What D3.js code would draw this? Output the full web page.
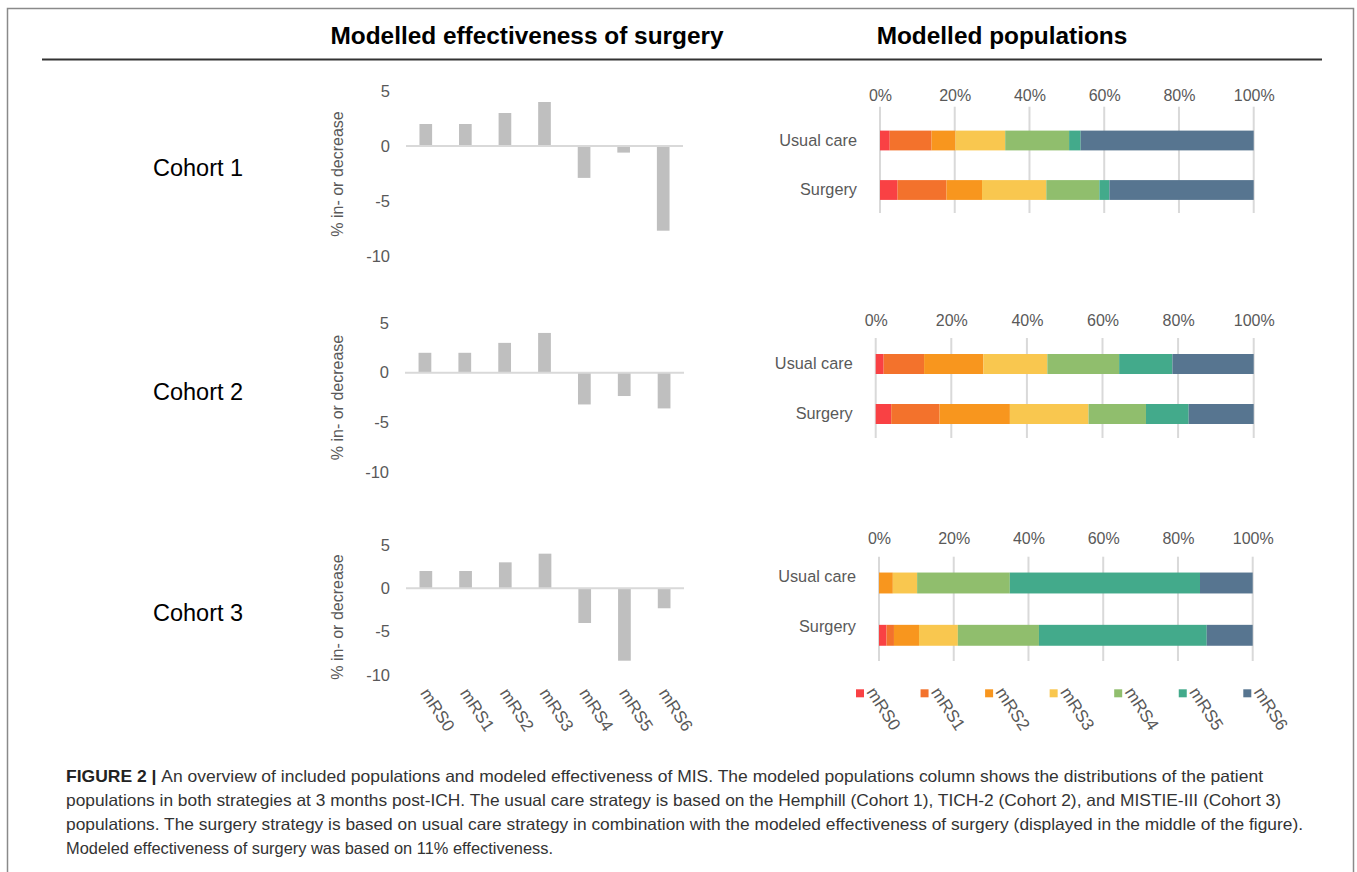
<!DOCTYPE html>
<html>
<head>
<meta charset="utf-8">
<script src="https://cdn.jsdelivr.net/npm/d3@7"></script>
<style>
  html, body { margin: 0; padding: 0; background: #fff; }
  svg { display: block; font-family: "Liberation Sans", Arial, sans-serif; }
</style>
</head>
<body>
<svg id="chart" width="1357" height="872"></svg>
<script>
// ---------------- DATA ----------------
const categories = ["mRS0", "mRS1", "mRS2", "mRS3", "mRS4", "mRS5", "mRS6"];
const cohortNames = ["Cohort 1", "Cohort 2", "Cohort 3"];
const effectCohort1 = [2, 2, 3, 4, -2.9, -0.6, -7.7];
const effectCohort2 = [2, 2, 3, 4, -3.2, -2.35, -3.6];
const effectCohort3 = [2, 2, 3, 4, -4.0, -8.35, -2.3];
const effectTicks = [5, 0, -5, -10];
const strategies = ["Usual care", "Surgery"];
const popCohort1UsualCare = [2.6, 11.2, 6.4, 13.3, 17.1, 3.1, 46.3];
const popCohort1Surgery   = [4.7, 13.1, 9.5, 17.2, 14.2, 2.7, 38.6];
const popCohort2UsualCare = [2.1, 10.7, 15.7, 16.9, 19.0, 14.1, 21.5];
const popCohort2Surgery   = [4.1, 12.8, 18.6, 20.8, 15.2, 11.3, 17.2];
const popCohort3UsualCare = [0, 0, 3.7, 6.5, 24.8, 50.9, 14.1];
const popCohort3Surgery   = [2.0, 2.0, 6.7, 10.4, 21.7, 44.9, 12.3];
const pctTicks = [0, 20, 40, 60, 80, 100];
const pctTickLabels = ["0%", "20%", "40%", "60%", "80%", "100%"];
const titleLeft = "Modelled effectiveness of surgery";
const titleRight = "Modelled populations";
const yAxisTitle = "% in- or decrease";
const captionLines = [
  ["FIGURE 2 | ", "An overview of included populations and modeled effectiveness of MIS. The modeled populations column shows the distributions of the patient"],
  ["", "populations in both strategies at 3 months post-ICH. The usual care strategy is based on the Hemphill (Cohort 1), TICH-2 (Cohort 2), and MISTIE-III (Cohort 3)"],
  ["", "populations. The surgery strategy is based on usual care strategy in combination with the modeled effectiveness of surgery (displayed in the middle of the figure)."],
  ["", "Modeled effectiveness of surgery was based on 11% effectiveness."]
];

// ---------------- STYLE ----------------
const palette = ["#F94144", "#F3722C", "#F8961E", "#F9C74F", "#90BE6D", "#43AA8B", "#577590"];
const axisTextColor = "#595959";
const gridColor = "#d9d9d9";
const barGrey = "#bfbfbf";

const svg = d3.select("#chart");

// frame
svg.append("rect").attr("x", 7.5).attr("y", 8.5).attr("width", 1346).attr("height", 900)
  .attr("fill", "none").attr("stroke", "#8a8a8a").attr("stroke-width", 1.5);

// header
svg.append("text").attr("x", 527).attr("y", 44).attr("text-anchor", "middle")
  .attr("font-size", 24.4).attr("font-weight", "bold").attr("fill", "#000").text(titleLeft);
svg.append("text").attr("x", 1002).attr("y", 44).attr("text-anchor", "middle")
  .attr("font-size", 24.4).attr("font-weight", "bold").attr("fill", "#000").text(titleRight);
svg.append("line").attr("x1", 42).attr("x2", 1322).attr("y1", 59.5).attr("y2", 59.5)
  .attr("stroke", "#333").attr("stroke-width", 2);

// ---------------- LAYOUTS ----------------
const effects = [effectCohort1, effectCohort2, effectCohort3];
const pops = [
  [popCohort1UsualCare, popCohort1Surgery],
  [popCohort2UsualCare, popCohort2Surgery],
  [popCohort3UsualCare, popCohort3Surgery]
];
const leftLayout = [
  { yTop: 91, yBot: 256, x0: 406, x1: 683, labelY: 174, cohortY: 176 },
  { yTop: 323, yBot: 472, x0: 405, x1: 684, labelY: 397.5, cohortY: 400 },
  { yTop: 545, yBot: 675, x0: 406, x1: 684, labelY: 617, cohortY: 621 }
];
const rightLayout = [
  { x0: 880, x1: 1253.7, tickY: 95, gTop: 106.7, gBot: 213, b0: 115.75, b1: 214.75, labShift: [0, 0] },
  { x0: 875.7, x1: 1253.7, tickY: 320, gTop: 338, gBot: 438, b0: 339, b1: 439, labShift: [0, 0] },
  { x0: 879, x1: 1252.7, tickY: 538.3, gTop: 556.7, gBot: 661, b0: 556.85, b1: 661.45, labShift: [-6, -9] }
];

cohortNames.forEach((name, ci) => {
  // cohort label
  svg.append("text").attr("x", 153).attr("y", leftLayout[ci].cohortY)
    .attr("font-size", 23.5).attr("fill", "#000").text(name);

  // ---- left: effectiveness bar chart ----
  const L = leftLayout[ci];
  const y = d3.scaleLinear().domain([-10, 5]).range([L.yBot, L.yTop]);
  const x = d3.scaleBand().domain(categories).range([L.x0, L.x1])
    .paddingInner(0.68).paddingOuter(0.34);
  const g = svg.append("g");

  g.selectAll("rect.bar").data(effects[ci]).join("rect")
    .attr("class", "bar")
    .attr("x", (d, i) => x(categories[i]))
    .attr("width", x.bandwidth())
    .attr("y", d => y(Math.max(0, d)))
    .attr("height", d => Math.abs(y(d) - y(0)))
    .attr("fill", barGrey);

  g.append("line").attr("x1", L.x0).attr("x2", L.x1)
    .attr("y1", y(0)).attr("y2", y(0))
    .attr("stroke", gridColor).attr("stroke-width", 2);

  const yAxis = g.append("g").attr("transform", `translate(${L.x0},0)`)
    .call(d3.axisLeft(y).tickValues(effectTicks).tickSize(0).tickPadding(16).tickFormat(d => String(d)));
  yAxis.select(".domain").remove();
  yAxis.selectAll("text").attr("font-size", 16.5).attr("fill", axisTextColor)
    .attr("font-family", "Liberation Sans, Arial, sans-serif");

  g.append("text").attr("transform", `translate(343,${L.labelY}) rotate(-90)`)
    .attr("text-anchor", "middle").attr("font-size", 16).attr("fill", axisTextColor)
    .text(yAxisTitle);

  if (ci === 2) {
    const xAxis = g.append("g").attr("transform", `translate(0,693)`)
      .call(d3.axisBottom(x).tickSize(0).tickPadding(0));
    xAxis.select(".domain").remove();
    xAxis.selectAll("text")
      .attr("font-size", 17).attr("fill", axisTextColor)
      .attr("font-family", "Liberation Sans, Arial, sans-serif")
      .attr("text-anchor", "start").attr("dy", 0).attr("y", 0)
      .attr("transform", "translate(-6,0) rotate(57)");
  }

  // ---- right: stacked populations ----
  const R = rightLayout[ci];
  const xp = d3.scaleLinear().domain([0, 100]).range([R.x0, R.x1]);
  const yp = d3.scaleBand().domain(strategies).range([R.b0, R.b1])
    .paddingInner(0.6).paddingOuter(0.3);
  const gr = svg.append("g");

  gr.selectAll("line.grid").data(pctTicks).join("line")
    .attr("class", "grid")
    .attr("x1", d => xp(d)).attr("x2", d => xp(d))
    .attr("y1", R.gTop).attr("y2", R.gBot)
    .attr("stroke", gridColor).attr("stroke-width", 2);

  const stackRows = strategies.map((s, si) => {
    const row = { strategy: s };
    categories.forEach((c, k) => row[c] = pops[ci][si][k]);
    return row;
  });
  const series = d3.stack().keys(categories)(stackRows);
  series.forEach((ser, k) => {
    gr.selectAll(null).data(ser).join("rect")
      .attr("x", d => xp(d[0]))
      .attr("width", d => Math.max(0, xp(d[1]) - xp(d[0])))
      .attr("y", d => yp(d.data.strategy))
      .attr("height", yp.bandwidth())
      .attr("fill", palette[k]);
  });

  const topAxis = gr.append("g").attr("transform", `translate(0,${R.tickY + 6})`)
    .call(d3.axisTop(xp).tickValues(pctTicks).tickSize(0).tickPadding(0)
      .tickFormat((d, i) => pctTickLabels[i]));
  topAxis.select(".domain").remove();
  topAxis.selectAll("text").attr("font-size", 16).attr("fill", axisTextColor)
    .attr("font-family", "Liberation Sans, Arial, sans-serif").attr("dy", 0);

  const leftAxis = gr.append("g").attr("transform", `translate(${R.x0},0)`)
    .call(d3.axisLeft(yp).tickSize(0).tickPadding(23));
  leftAxis.select(".domain").remove();
  leftAxis.selectAll("text").attr("font-size", 16.3).attr("fill", axisTextColor)
    .attr("font-family", "Liberation Sans, Arial, sans-serif")
    .attr("transform", (d, i) => `translate(0,${R.labShift[i]})`);
});

// ---------------- LEGEND ----------------
const legendX = d3.scalePoint().domain(categories).range([856, 1243.3]);
const lg = svg.append("g");
categories.forEach((c, k) => {
  lg.append("rect").attr("x", legendX(c)).attr("y", 689.3).attr("width", 8).attr("height", 8)
    .attr("fill", palette[k]);
  lg.append("text").attr("transform", `translate(${legendX(c) + 10},692) rotate(57)`)
    .attr("font-size", 17).attr("fill", axisTextColor).text(c);
});

// ---------------- CAPTION ----------------
const captionTargets = [1263, 1281, 1303, 553];
captionLines.forEach((parts, i) => {
  const t = svg.append("text").attr("x", 66).attr("y", 782 + i * 24)
    .attr("font-size", 16.5).attr("fill", "#333");
  if (parts[0]) t.append("tspan").attr("font-weight", "bold").attr("fill", "#222").text(parts[0]);
  t.append("tspan").text(parts[1]);
  t.attr("textLength", captionTargets[i] - 66).attr("lengthAdjust", "spacingAndGlyphs");
});
</script>
</body>
</html>
